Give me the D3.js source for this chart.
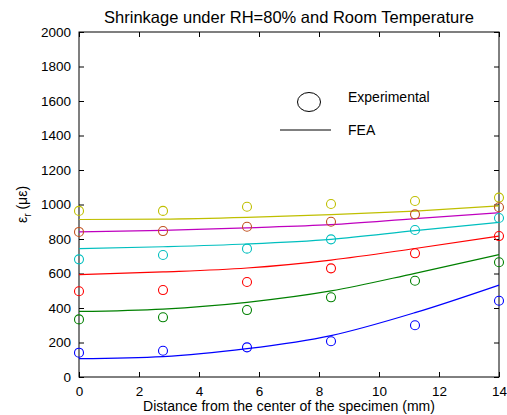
<!DOCTYPE html>
<html>
<head>
<meta charset="utf-8">
<script src="https://cdnjs.cloudflare.com/ajax/libs/d3/7.8.5/d3.min.js"></script>
<style>
  body { margin: 0; background: #fff; }
  svg { font-family: "Liberation Sans", Arial, sans-serif; }
</style>
</head>
<body>
<script>
// distances (mm)
var xPos = [0, 2.8, 5.6, 8.4, 11.2, 14]

// experimental points, one array per series
var expYellow = [963, 963, 987, 1003, 1020, 1040]
var expBrown  = [841, 846, 871, 900, 943, 984]
var expCyan   = [682, 707, 744, 798, 852, 922]
var expRed    = [497, 504, 551, 630, 717, 817]
var expGreen  = [334, 346, 388, 462, 558, 665]
var expBlue   = [141, 152, 172, 207, 300, 442]

// FEA curves
var feaYellow = [913, 915, 925, 941, 962, 992]
var feaPink   = [841, 850, 865, 883, 918, 952]
var feaCyan   = [744, 755, 771, 798, 848, 896]
var feaRed    = [593, 609, 632, 678, 745, 817]
var feaGreen  = [380, 394, 433, 499, 601, 709]
var feaBlue   = [106, 118, 164, 240, 373, 533]

var xTicks = [0, 2, 4, 6, 8, 10, 12, 14]
var yTicks = [0, 200, 400, 600, 800, 1000, 1200, 1400, 1600, 1800, 2000]

var series = [
  { exp: expYellow, fea: feaYellow, ec: "#bfbf00", lc: "#bfbf00" },
  { exp: expBrown,  fea: feaPink,   ec: "#c0501e", lc: "#bf00bf" },
  { exp: expCyan,   fea: feaCyan,   ec: "#00bfbf", lc: "#00bfbf" },
  { exp: expRed,    fea: feaRed,    ec: "#ff0000", lc: "#ff0000" },
  { exp: expGreen,  fea: feaGreen,  ec: "#008000", lc: "#008000" },
  { exp: expBlue,   fea: feaBlue,   ec: "#0000ff", lc: "#0000ff" }
]

var width = 507, height = 415
var m = { left: 79, right: 8, top: 32, bottom: 38 }

var svg = d3.select("body").append("svg")
  .attr("width", width)
  .attr("height", height)

var x = d3.scaleLinear().domain([0, 14]).range([m.left, width - m.right])
var y = d3.scaleLinear().domain([0, 2000]).range([height - m.bottom, m.top])

// frame
svg.append("rect")
  .attr("x", x(0)).attr("y", y(2000))
  .attr("width", x(14) - x(0)).attr("height", y(0) - y(2000))
  .attr("fill", "none").attr("stroke", "#000")

// axes, ticks pointing in
function styleAxis(g) {
  g.select(".domain").remove()
  g.selectAll("text").attr("fill", "#000").style("font-size", "13.5px")
  g.selectAll("line").attr("stroke", "#000")
}
svg.append("g").attr("transform", "translate(0," + y(0) + ")")
  .call(d3.axisBottom(x).tickValues(xTicks).tickSizeInner(-5).tickPadding(9))
  .call(styleAxis)
svg.append("g").attr("transform", "translate(0," + y(2000) + ")")
  .call(d3.axisTop(x).tickValues(xTicks).tickSizeInner(-5).tickFormat(""))
  .call(styleAxis)
svg.append("g").attr("transform", "translate(" + x(0) + ",0)")
  .call(d3.axisLeft(y).tickValues(yTicks).tickSizeInner(-5).tickPadding(8).tickFormat(d3.format("d")))
  .call(styleAxis)
svg.append("g").attr("transform", "translate(" + x(14) + ",0)")
  .call(d3.axisRight(y).tickValues(yTicks).tickSizeInner(-5).tickFormat(""))
  .call(styleAxis)

var line = d3.line()
  .x(function(d, i) { return x(xPos[i]) })
  .y(function(d) { return y(d) })
  .curve(d3.curveMonotoneX)

var plot = svg.append("g")

series.forEach(function(s) {
  plot.append("path")
    .attr("d", line(s.fea))
    .attr("fill", "none")
    .attr("stroke", s.lc)
    .attr("stroke-width", 1.2)
  plot.selectAll(null)
    .data(s.exp)
    .enter().append("circle")
    .attr("cx", function(d, i) { return x(xPos[i]) })
    .attr("cy", function(d) { return y(d) })
    .attr("r", 4.5)
    .attr("fill", "none")
    .attr("stroke", s.ec)
    .attr("stroke-width", 1.1)
})

// legend
svg.append("ellipse")
  .attr("cx", 309).attr("cy", 102).attr("rx", 11.5).attr("ry", 9.5)
  .attr("fill", "none").attr("stroke", "#000")
svg.append("text").attr("x", 348).attr("y", 102)
  .style("font-size", "14px").text("Experimental")
svg.append("line")
  .attr("x1", 280).attr("x2", 331).attr("y1", 130).attr("y2", 130)
  .attr("stroke", "#000")
svg.append("text").attr("x", 348).attr("y", 135)
  .style("font-size", "14px").text("FEA")

// title and labels
svg.append("text")
  .attr("x", (x(0) + x(14)) / 2).attr("y", 23)
  .attr("text-anchor", "middle")
  .style("font-size", "16.5px")
  .text("Shrinkage under RH=80% and Room Temperature")

svg.append("text")
  .attr("x", (x(0) + x(14)) / 2).attr("y", 411)
  .attr("text-anchor", "middle")
  .style("font-size", "14px")
  .text("Distance from the center of the specimen (mm)")

var yl = svg.append("text")
  .attr("transform", "translate(27," + ((y(0) + y(2000)) / 2) + ") rotate(-90)")
  .attr("text-anchor", "middle")
  .style("font-size", "14px")
yl.append("tspan").text("ε")
yl.append("tspan").attr("dy", 4).style("font-size", "10px").text("r")
yl.append("tspan").attr("dy", -4).text(" (με)")
</script>
</body>
</html>
